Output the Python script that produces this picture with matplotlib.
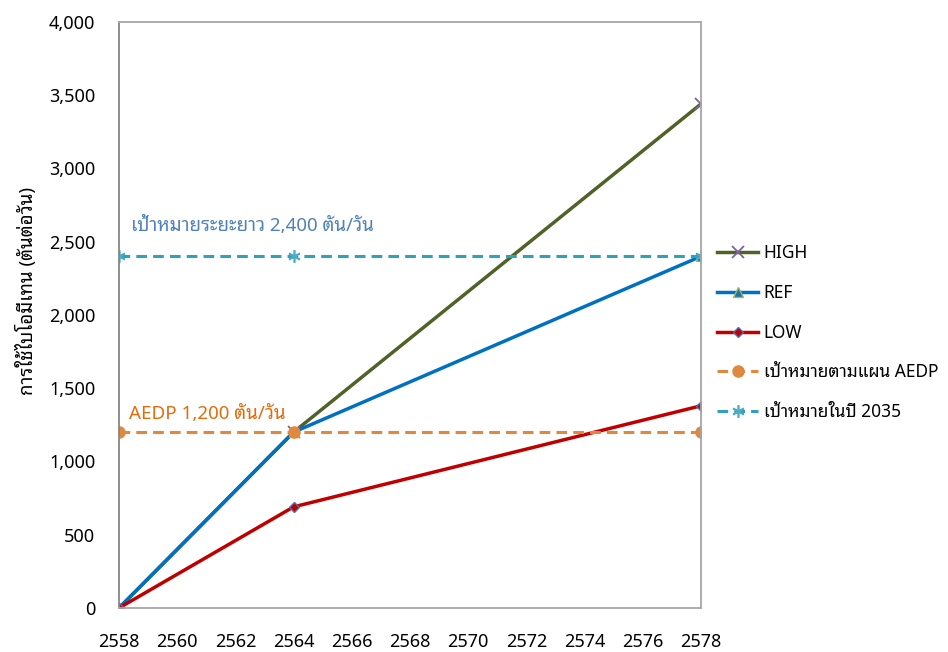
import matplotlib
matplotlib.use("Agg")
import matplotlib.pyplot as plt
import matplotlib.ticker as mticker

years = [2558, 2564, 2578]
high = [0, 1200, 3440]
ref = [0, 1200, 2400]
low = [0, 690, 1380]
aedp = [1200, 1200, 1200]
target2035 = [2400, 2400, 2400]
labels = ["HIGH", "REF", "LOW", "เป้าหมายตามแผน AEDP", "เป้าหมายในปี 2035"]
ylabel = "การใช้ไบโอมีเทน (ตันต่อวัน)"
note_long = "เป้าหมายระยะยาว 2,400 ตัน/วัน"
note_aedp = "AEDP 1,200 ตัน/วัน"
xticks = list(range(2558, 2579, 2))
yticks = list(range(0, 4001, 500))

plt.rcParams['font.family'] = ["Noto Sans Thai Looped", "DejaVu Sans"]

fig = plt.figure(figsize=(9.48, 6.52), dpi=100)
ax = fig.add_axes([0.1255, 0.0675, 0.614, 0.899])
ax.plot(years, high, color="#4F6228", lw=2.5, marker="x", ms=8, mec="#7E63A1", mew=1.3, label=labels[0])
ax.plot(years, ref, color="#0070C0", lw=2.5, marker="^", ms=7, mfc="#1F6FB5", mec="#9BBB59", label=labels[1])
ax.plot(years, low, color="#C00000", lw=2.5, marker="D", ms=5.5, mfc="#C00000", mec="#4F6FB0", label=labels[2])
ax.plot(years, aedp, color="#E0883D", lw=2.2, ls=(0, (3.5, 2)), marker="o", ms=8, label=labels[3])
ax.plot(years, target2035, color="#31A0B8", lw=2.2, ls=(0, (3.5, 2)), marker=(6, 2, 0), ms=9,
        mec="#4BACC6", mew=1.2, label=labels[4])

ax.set_xlim(2558, 2578)
ax.set_ylim(0, 4000)
ax.set_xticks(xticks)
ax.set_yticks(yticks)
ax.yaxis.set_major_formatter(mticker.StrMethodFormatter("{x:,.0f}"))
ax.tick_params(length=0, labelsize=13)
ax.tick_params(axis="x", pad=18)
ax.tick_params(axis="y", pad=17)
for s in ax.spines.values():
    s.set_color("#A6A6A6")
    s.set_linewidth(1.3)
ax.spines['left'].set_color("#868686")
ax.set_ylabel(ylabel, fontsize=13.5, fontweight="bold")
ax.yaxis.set_label_coords(-0.141, 0.541)

ax.text(2558.41, 2573, note_long, color="#4F81BD", fontsize=13.5)
ax.text(2558.35, 1290, note_aedp, color="#E36C0A", fontsize=13.5)

ax.legend(loc="upper left", bbox_to_anchor=(1.0, 0.647), frameon=False, fontsize=12.5,
          labelspacing=1.25, handlelength=2.4, handletextpad=0.3, borderaxespad=0.5)

fig.savefig("out.png", dpi=100)
